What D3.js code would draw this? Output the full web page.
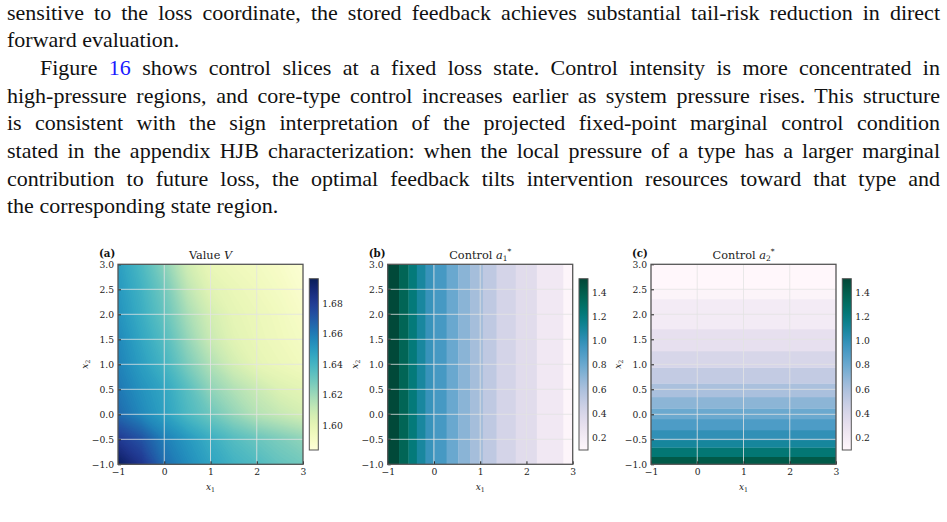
<!DOCTYPE html>
<html>
<head>
<meta charset="utf-8">
<script src="https://cdn.jsdelivr.net/npm/d3@7"></script>
<style>
  body { margin: 0; background: #fff; width: 947px; height: 522px; overflow: hidden; position: relative; }
  #text { position: absolute; left: 7px; top: -1.5px; width: 933px; font-family: "Liberation Serif", serif; font-size: 22px; color: #111; }
  #text div { height: 27.7px; line-height: 27.7px; text-align: justify; text-align-last: justify; }
  #text div.last { text-align-last: left; }
  #text div.indent { padding-left: 33px; }
  #text a { color: #1a1aff; text-decoration: none; }
  #fig { position: absolute; left: 0; top: 0; }
</style>
</head>
<body>
<div id="text">
  <div>sensitive to the loss coordinate, the stored feedback achieves substantial tail-risk reduction in direct</div>
  <div class="last">forward evaluation.</div>
  <div class="indent">Figure <a>16</a> shows control slices at a fixed loss state. Control intensity is more concentrated in</div>
  <div>high-pressure regions, and core-type control increases earlier as system pressure rises. This structure</div>
  <div>is consistent with the sign interpretation of the projected fixed-point marginal control condition</div>
  <div>stated in the appendix HJB characterization: when the local pressure of a type has a larger marginal</div>
  <div>contribution to future loss, the optimal feedback tilts intervention resources toward that type and</div>
  <div class="last">the corresponding state region.</div>
</div>
<div id="fig"></div>
<script>
// ---- data ----
const xTicks = [-1, 0, 1, 2, 3];
const yTicks = [-1, -0.5, 0, 0.5, 1, 1.5, 2, 2.5, 3];

// value V sampled on a grid (rows: x2 from 3 down to -1)
const vX1 = [-1, -0.5, 0, 0.5, 1, 1.5, 2, 2.5, 3];
const vX2 = [3, 2.5, 2, 1.5, 1, 0.5, 0, -0.5, -1];
const vGrid = [
  [1.649, 1.638, 1.624, 1.608, 1.598, 1.595, 1.593, 1.590, 1.586],
  [1.651, 1.641, 1.629, 1.613, 1.602, 1.598, 1.595, 1.592, 1.588],
  [1.653, 1.643, 1.632, 1.618, 1.607, 1.600, 1.597, 1.594, 1.590],
  [1.656, 1.646, 1.636, 1.622, 1.610, 1.602, 1.598, 1.595, 1.592],
  [1.658, 1.649, 1.640, 1.627, 1.616, 1.607, 1.600, 1.597, 1.594],
  [1.661, 1.653, 1.646, 1.635, 1.623, 1.616, 1.610, 1.604, 1.601],
  [1.665, 1.656, 1.648, 1.638, 1.630, 1.622, 1.615, 1.611, 1.607],
  [1.681, 1.672, 1.659, 1.651, 1.643, 1.636, 1.631, 1.627, 1.623],
  [1.695, 1.683, 1.664, 1.655, 1.647, 1.641, 1.637, 1.632, 1.629]
];
const vDomain = [1.584, 1.696];
const vTicks = [1.60, 1.62, 1.64, 1.66, 1.68];

// control a1* : piecewise constant bands along x1
const a1Edges = [-1, -0.755, -0.55, -0.37, -0.18, -0.01, 0.275, 0.525, 0.78, 1.06, 1.355, 1.77, 2.225, 2.80, 3];
const a1Values = [1.50, 1.36, 1.22, 1.09, 0.975, 0.925, 0.805, 0.705, 0.62, 0.52, 0.415, 0.34, 0.22, 0.11];

// control a2* : piecewise constant bands along x2
const a2Edges = [-1, -0.848, -0.66, -0.514, -0.314, -0.094, 0.12, 0.346, 0.62, 0.936, 1.266, 1.706, 2.306, 2.5, 3];
const a2Values = [1.42, 1.24, 1.10, 1.00, 0.90, 0.80, 0.70, 0.60, 0.50, 0.40, 0.30, 0.20, 0.12, 0.095];

const aDomain = [0.095, 1.516];
const aTicks = [0.2, 0.4, 0.6, 0.8, 1.0, 1.2, 1.4];

// ---- layout ----
const W = 947, H = 522;
const plotTop = 264.3, plotH = 200, plotW = 185;
const cbTop = 278.7, cbBottom = 450, cbW = 9, cbGap = 6.3;
const figFont = '"DejaVu Serif", serif';
const tickFont = 9.2;

const svg = d3.select('#fig').append('svg')
    .attr('width', W)
    .attr('height', H)
    .style('font-family', figFont);

const panels = [
  {id: 'a', left: 118, title: 'value', interp: d3.interpolateYlGnBu, domain: vDomain, cticks: vTicks, cfmt: d3.format('.2f')},
  {id: 'b', left: 387.7, title: 'a1', interp: d3.interpolatePuBuGn, domain: aDomain, cticks: aTicks, cfmt: d3.format('.1f')},
  {id: 'c', left: 651, title: 'a2', interp: d3.interpolatePuBuGn, domain: aDomain, cticks: aTicks, cfmt: d3.format('.1f')}
];

panels.forEach(p => {
  const x = d3.scaleLinear().domain([-1, 3]).range([p.left, p.left + plotW]);
  const y = d3.scaleLinear().domain([-1, 3]).range([plotTop + plotH, plotTop]);
  const color = d3.scaleSequential(p.interp).domain(p.domain);

  const g = svg.append('g').attr('class', 'panel-' + p.id);

  g.append('clipPath').attr('id', 'clip-' + p.id)
    .append('rect')
      .attr('x', p.left).attr('y', plotTop)
      .attr('width', plotW).attr('height', plotH);

  const heat = g.append('g').attr('clip-path', `url(#clip-${p.id})`);

  if (p.id === 'a') {
    // smooth field via filled contours of the sampled grid
    const n = vX1.length, m = vX2.length;
    const thresholds = d3.range(vDomain[0], vDomain[1], 0.0008);
    const contours = d3.contours().size([n, m]).thresholds(thresholds)(vGrid.flat());
    const dx = vX1[1] - vX1[0], dy = vX2[1] - vX2[0];
    const proj = d3.geoTransform({
      point(px, py) {
        this.stream.point(x(vX1[0] + (px - 0.5) * dx), y(vX2[0] + (py - 0.5) * dy));
      }
    });
    const path = d3.geoPath(proj);
    heat.selectAll('path')
      .data(contours)
      .join('path')
        .attr('d', path)
        .attr('fill', d => color(d.value + 0.0004));
  } else if (p.id === 'b') {
    heat.selectAll('rect')
      .data(a1Values)
      .join('rect')
        .attr('x', (d, i) => x(a1Edges[i]))
        .attr('y', plotTop)
        .attr('width', (d, i) => x(a1Edges[i + 1]) - x(a1Edges[i]) + 0.3)
        .attr('height', plotH)
        .attr('fill', d => color(d));
  } else {
    heat.selectAll('rect')
      .data(a2Values)
      .join('rect')
        .attr('x', p.left)
        .attr('y', (d, i) => y(a2Edges[i + 1]))
        .attr('width', plotW)
        .attr('height', (d, i) => y(a2Edges[i]) - y(a2Edges[i + 1]) + 0.3)
        .attr('fill', d => color(d));
  }

  // grid
  const grid = g.append('g').attr('stroke', '#e4e4e4').attr('stroke-opacity', 0.8).attr('stroke-width', 1);
  grid.selectAll('line.v')
    .data(xTicks.slice(1, -1))
    .join('line').attr('class', 'v')
      .attr('x1', d => x(d)).attr('x2', d => x(d))
      .attr('y1', plotTop).attr('y2', plotTop + plotH);
  grid.selectAll('line.h')
    .data(yTicks.slice(1, -1))
    .join('line').attr('class', 'h')
      .attr('x1', p.left).attr('x2', p.left + plotW)
      .attr('y1', d => y(d)).attr('y2', d => y(d));

  // axes (ticks pointing in)
  const xAxisG = g.append('g')
      .attr('transform', `translate(0,${plotTop + plotH})`)
      .call(d3.axisBottom(x).tickValues(xTicks).tickFormat(d3.format('d')).tickSize(-3).tickPadding(4));
  const yAxisG = g.append('g')
      .attr('transform', `translate(${p.left},0)`)
      .call(d3.axisLeft(y).tickValues(yTicks).tickFormat(d3.format('.1f')).tickSize(-3).tickPadding(4));
  [xAxisG, yAxisG].forEach(ax => {
    ax.select('.domain').remove();
    ax.selectAll('line').attr('stroke', '#222').attr('stroke-width', 1);
    ax.selectAll('text').attr('font-size', tickFont).attr('fill', '#222').style('font-family', figFont);
  });

  // frame
  g.append('rect')
      .attr('x', p.left).attr('y', plotTop)
      .attr('width', plotW).attr('height', plotH)
      .attr('fill', 'none').attr('stroke', '#555').attr('stroke-width', 1.3);

  // panel label and title
  g.append('text')
      .attr('x', p.left - 19).attr('y', 256.5)
      .attr('font-size', 10.2).attr('font-weight', 'bold').attr('fill', '#111')
      .text(`(${p.id})`);

  const title = g.append('text')
      .attr('x', p.left + plotW / 2).attr('y', 258.5)
      .attr('text-anchor', 'middle').attr('font-size', 11.3).attr('fill', '#222');
  if (p.title === 'value') {
    title.append('tspan').text('Value ');
    title.append('tspan').attr('font-style', 'italic').text('V');
  } else {
    title.append('tspan').text('Control ');
    title.append('tspan').attr('font-style', 'italic').text('a');
    title.append('tspan').attr('font-size', 7.5).attr('dy', 2.5).text(p.title === 'a1' ? '1' : '2');
    title.append('tspan').attr('font-size', 7.5).attr('dx', 0).attr('dy', -7).text('*');
  }

  // axis labels
  const xl = g.append('text')
      .attr('x', p.left + plotW / 2).attr('y', 490)
      .attr('text-anchor', 'middle').attr('font-size', 9).attr('fill', '#222');
  xl.append('tspan').attr('font-style', 'italic').text('x');
  xl.append('tspan').attr('font-size', 6.3).attr('dy', 2).text('1');

  const yl = g.append('text')
      .attr('transform', `translate(${p.left - 30},${plotTop + plotH / 2}) rotate(-90)`)
      .attr('text-anchor', 'middle').attr('font-size', 9).attr('fill', '#222');
  yl.append('tspan').attr('font-style', 'italic').text('x');
  yl.append('tspan').attr('font-size', 6.3).attr('dy', 2).text('2');

  // colorbar
  const cbLeft = p.left + plotW + cbGap;
  const cScale = d3.scaleLinear().domain(p.domain).range([cbBottom, cbTop]);
  const grad = svg.append('defs').append('linearGradient')
      .attr('id', 'grad-' + p.id)
      .attr('x1', 0).attr('x2', 0).attr('y1', 1).attr('y2', 0);
  grad.selectAll('stop')
    .data(d3.range(0, 1.0001, 0.05))
    .join('stop')
      .attr('offset', d => d)
      .attr('stop-color', d => p.interp(d));
  g.append('rect')
      .attr('x', cbLeft).attr('y', cbTop)
      .attr('width', cbW).attr('height', cbBottom - cbTop)
      .attr('fill', `url(#grad-${p.id})`)
      .attr('stroke', '#555').attr('stroke-width', 1);
  const cAxisG = g.append('g')
      .attr('transform', `translate(${cbLeft + cbW},0)`)
      .call(d3.axisRight(cScale).tickValues(p.cticks).tickFormat(p.cfmt).tickSize(0).tickPadding(4));
  cAxisG.select('.domain').remove();
  cAxisG.selectAll('text').attr('font-size', tickFont).attr('fill', '#222').style('font-family', figFont);
});
</script>
</body>
</html>
